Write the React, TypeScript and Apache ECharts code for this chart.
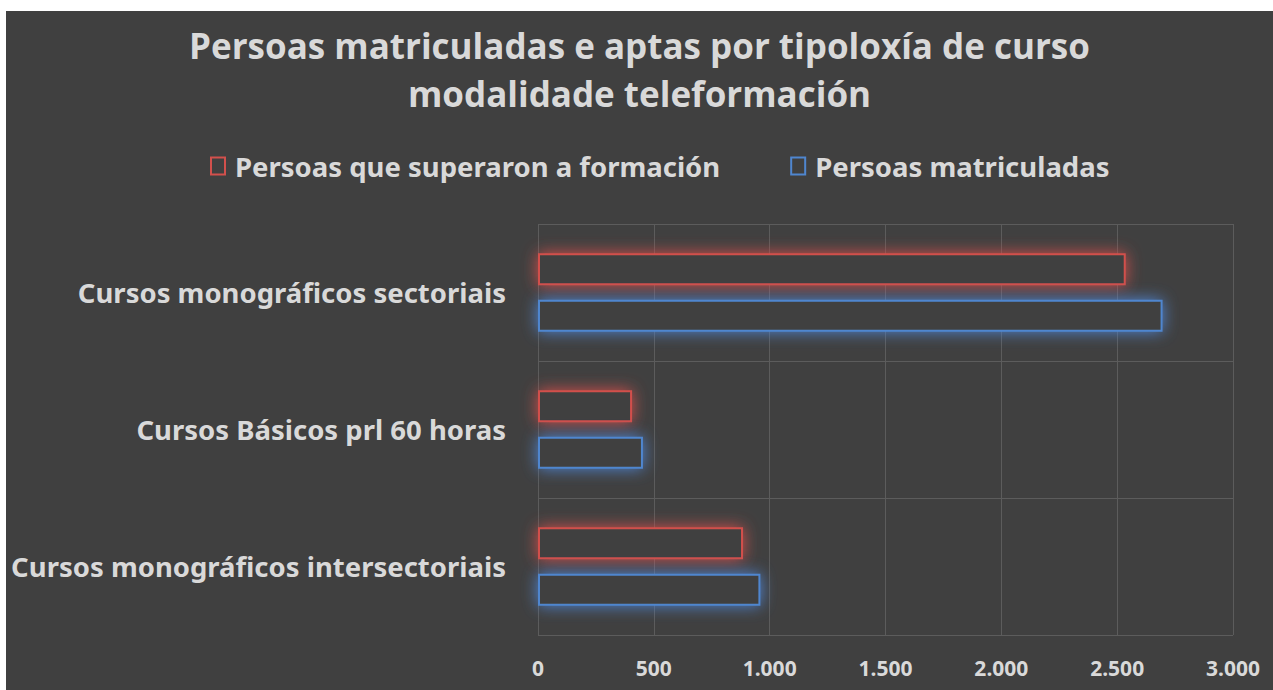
import React, { useEffect, useRef } from "react";
import * as echarts from "echarts";

const categories = [
  "Cursos monográficos intersectoriais",
  "Cursos Básicos prl 60 horas",
  "Cursos monográficos sectoriais",
];
const matriculadas = [960, 453, 2696];
const superaron = [885, 406, 2537];
const seriesNames = ["Persoas que superaron a formación", "Persoas matriculadas"];
const titleLines = ["Persoas matriculadas e aptas por tipoloxía de curso", "modalidade teleformación"];

const RED = "#d2504c";
const BLUE = "#4f86cf";
const TXT = "#d9d9d9";
const FONT = "'Noto Sans', sans-serif";

function fmt(v: number) {
  return String(v).replace(/\B(?=(\d{3})+(?!\d))/g, ".");
}

const titleStyle = {
  color: TXT,
  fontSize: 35,
  fontWeight: "bold",
  fontFamily: "'Open Sans', sans-serif",
};

export default function App() {
  const ref = useRef<HTMLDivElement>(null);
  useEffect(() => {
    if (!ref.current) return;
    const chart = echarts.init(ref.current, null, { renderer: "svg" });
    const bar = (name: string, data: number[], color: string, glow: string) => ({
      name,
      type: "bar",
      data,
      barWidth: 32,
      barGap: "45%",
      itemStyle: {
        color: "#404040",
        borderColor: color,
        borderWidth: 2,
        shadowBlur: 16,
        shadowColor: glow,
      },
    });
    chart.setOption({
      animation: false,
      backgroundColor: "#404040",
      title: [
        { text: titleLines[0], left: "center", top: 17, padding: 0, textStyle: titleStyle },
        { text: titleLines[1], left: "center", top: 65, padding: 0, textStyle: titleStyle },
      ],
      legend: {
        data: seriesNames,
        top: 136,
        left: 199,
        icon: "rect",
        itemWidth: 14,
        itemHeight: 17,
        itemGap: 70,
        textStyle: {
          color: TXT,
          fontSize: 27.5,
          fontWeight: "bold",
          fontFamily: FONT,
          padding: [0, 0, 0, 5],
        },
      },
      grid: { left: 532, right: 40, top: 213, bottom: 55 },
      xAxis: {
        type: "value",
        min: 0,
        max: 3000,
        interval: 500,
        axisLine: { show: false },
        axisTick: { show: false },
        splitLine: { show: true, lineStyle: { color: "#5c5c5c", width: 1 } },
        axisLabel: {
          color: TXT,
          fontSize: 21,
          fontWeight: "bold",
          fontFamily: FONT,
          margin: 22,
          formatter: (v: number) => fmt(v),
        },
      },
      yAxis: {
        type: "category",
        data: categories,
        axisLine: { show: false },
        axisTick: { show: false },
        splitLine: { show: true, lineStyle: { color: "#5c5c5c", width: 1 } },
        axisLabel: {
          color: TXT,
          fontSize: 27.5,
          fontWeight: "bold",
          fontFamily: FONT,
          margin: 32,
        },
      },
      series: [
        bar(seriesNames[0], superaron, RED, "rgba(215,80,76,1)"),
        bar(seriesNames[1], matriculadas, BLUE, "rgba(79,134,215,1)"),
      ],
    });
    return () => chart.dispose();
  }, []);
  return (
    <div
      ref={ref}
      style={{ position: "fixed", left: 6, top: 11, width: 1267, height: 679 }}
    />
  );
}
